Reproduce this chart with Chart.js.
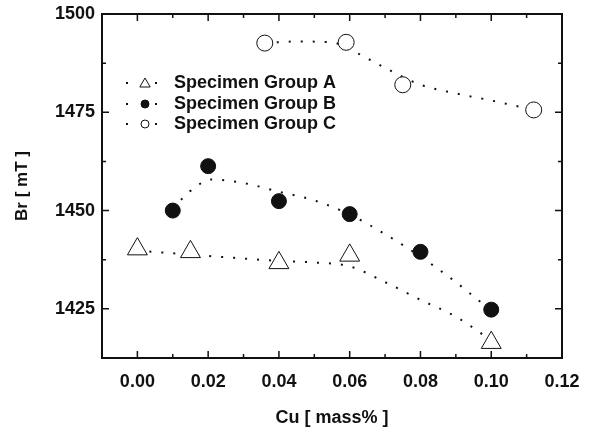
<!DOCTYPE html>
<html>
<head>
<meta charset="utf-8">
<script src="https://cdn.jsdelivr.net/npm/chart.js@4.4.1/dist/chart.umd.min.js"></script>
<style>
  html, body { margin: 0; padding: 0; background: #fff; }
  #wrap { width: 590px; height: 432px; }
</style>
</head>
<body>
<div id="wrap"><canvas id="brChart" width="590" height="432"></canvas></div>
<script>
// measured points (Cu mass%, Br mT)
const groupA_x = [0.000, 0.015, 0.040, 0.060, 0.100];
const groupA_y = [1440.2, 1439.5, 1436.7, 1438.6, 1416.4];
const groupB_x = [0.010, 0.020, 0.040, 0.060, 0.080, 0.100];
const groupB_y = [1450.0, 1461.3, 1452.4, 1449.1, 1439.5, 1424.8];
const groupC_x = [0.036, 0.059, 0.075, 0.112];
const groupC_y = [1492.6, 1492.8, 1482.0, 1475.6];

// dotted trend curves
const curveA_x = [0.000, 0.015, 0.030, 0.040, 0.050, 0.060, 0.070, 0.080, 0.090, 0.100];
const curveA_y = [1439.8, 1438.8, 1437.8, 1437.2, 1436.8, 1435.8, 1431.8, 1427.3, 1423.0, 1417.0];
const curveB_x = [0.010, 0.015, 0.021, 0.030, 0.040, 0.050, 0.060, 0.070, 0.080, 0.090, 0.100];
const curveB_y = [1450.5, 1455.0, 1457.9, 1457.0, 1454.8, 1452.6, 1449.0, 1444.0, 1438.3, 1431.8, 1424.5];
const curveC_x = [0.036, 0.045, 0.055, 0.060, 0.070, 0.080, 0.090, 0.100, 0.112];
const curveC_y = [1492.6, 1493.0, 1492.8, 1491.0, 1486.3, 1482.0, 1479.8, 1478.0, 1475.6];

const seriesNames = ['Specimen Group A', 'Specimen Group B', 'Specimen Group C'];
const xTickValues = [0.00, 0.02, 0.04, 0.06, 0.08, 0.10, 0.12];
const yTickValues = [1425, 1450, 1475, 1500];
const xMinorStep = 0.01;
const yMinorStep = 12.5;

function pts(xs, ys) {
    return xs.map(function (x, i) { return { x: x, y: ys[i] }; });
}

const FONT = 'Arial, "Liberation Sans", sans-serif';
const INK = '#111';

function curve(xs, ys) {
    return {
        data: pts(xs, ys),
        showLine: true,
        borderColor: INK,
        borderWidth: 2,
        borderDash: [2, 10],
        pointRadius: 0,
        tension: 0.4,
        cubicInterpolationMode: 'monotone',
        fill: false
    };
}

// no label overflow padding, the layout padding decides the plot box
function noOverflow(scale) {
    scale.paddingTop = 0;
    scale.paddingBottom = 0;
    scale.paddingLeft = 0;
    scale.paddingRight = 0;
}

// frame, inward ticks and the legend box
const framePlugin = {
    id: 'frame',
    afterDraw: function (chart) {
        const ctx = chart.ctx;
        const a = chart.chartArea;
        const xs = chart.scales.x, ys = chart.scales.y;
        ctx.save();
        ctx.strokeStyle = INK;
        ctx.lineWidth = 2;
        ctx.strokeRect(a.left, a.top, a.right - a.left, a.bottom - a.top);
        ctx.lineWidth = 1.5;
        ctx.beginPath();
        for (let v = Math.round(xs.min / xMinorStep); v * xMinorStep <= xs.max + 1e-9; v++) {
            const px = xs.getPixelForValue(v * xMinorStep);
            const len = (v % 2 === 0) ? 7 : 4;
            ctx.moveTo(px, a.bottom); ctx.lineTo(px, a.bottom - len);
            ctx.moveTo(px, a.top); ctx.lineTo(px, a.top + len);
        }
        for (let v = Math.ceil(ys.min / yMinorStep); v * yMinorStep <= ys.max + 1e-9; v++) {
            const py = ys.getPixelForValue(v * yMinorStep);
            const len = (v % 2 === 0) ? 7 : 4;
            ctx.moveTo(a.left, py); ctx.lineTo(a.left + len, py);
            ctx.moveTo(a.right, py); ctx.lineTo(a.right - len, py);
        }
        ctx.stroke();

        // legend
        const rowsY = [83, 104, 124];
        const styles = ['triangle', 'circle', 'circle'];
        const fills = ['#fff', INK, '#fff'];
        const radii = [6, 4, 4];
        ctx.font = 'bold 18px ' + FONT;
        ctx.textBaseline = 'middle';
        for (let i = 0; i < seriesNames.length; i++) {
            const y = rowsY[i];
            ctx.fillStyle = INK;
            ctx.fillRect(126, y - 1, 2, 2);
            ctx.fillRect(155, y - 1, 2, 2);
            ctx.lineWidth = 1;
            ctx.strokeStyle = INK;
            ctx.fillStyle = fills[i];
            Chart.helpers.drawPoint(ctx, { pointStyle: styles[i], radius: radii[i], borderWidth: 1 }, 145, y + (i === 0 ? 1 : 0));
            ctx.fillStyle = INK;
            ctx.fillText(seriesNames[i], 174, y);
        }
        ctx.restore();
    }
};

const ctx = document.getElementById('brChart').getContext('2d');
new Chart(ctx, {
    type: 'scatter',
    data: {
        datasets: [
            {
                label: seriesNames[0],
                data: pts(groupA_x, groupA_y),
                pointStyle: 'triangle',
                pointRadius: 11.5,
                pointBackgroundColor: '#fff',
                pointBorderColor: INK,
                pointBorderWidth: 1
            },
            {
                label: seriesNames[1],
                data: pts(groupB_x, groupB_y),
                pointStyle: 'circle',
                pointRadius: 7.5,
                pointBackgroundColor: INK,
                pointBorderColor: INK,
                pointBorderWidth: 1
            },
            {
                label: seriesNames[2],
                data: pts(groupC_x, groupC_y),
                pointStyle: 'circle',
                pointRadius: 8,
                pointBackgroundColor: '#fff',
                pointBorderColor: INK,
                pointBorderWidth: 1
            },
            curve(curveA_x, curveA_y),
            curve(curveB_x, curveB_y),
            curve(curveC_x, curveC_y)
        ]
    },
    options: {
        responsive: false,
        animation: false,
        layout: { padding: { left: 0, right: 28, top: 14, bottom: 0 } },
        plugins: {
            legend: { display: false },
            tooltip: { enabled: false }
        },
        scales: {
            x: {
                type: 'linear',
                min: -0.01,
                max: 0.12,
                afterBuildTicks: function (scale) {
                    scale.ticks = xTickValues.map(function (v) { return { value: v }; });
                },
                afterFit: function (scale) { scale.height = 74; noOverflow(scale); },
                grid: { display: false, drawTicks: false },
                border: { display: false },
                ticks: {
                    padding: 13,
                    color: INK,
                    font: { family: FONT, size: 18, weight: 'bold' },
                    callback: function (v) { return v.toFixed(2); }
                },
                title: {
                    display: true,
                    text: 'Cu [ mass% ]',
                    color: INK,
                    font: { family: FONT, size: 18, weight: 'bold' },
                    padding: { top: 0, bottom: 3 }
                }
            },
            y: {
                type: 'linear',
                min: 1412.5,
                max: 1500,
                afterBuildTicks: function (scale) {
                    scale.ticks = yTickValues.map(function (v) { return { value: v }; });
                },
                afterFit: function (scale) { scale.width = 102; noOverflow(scale); },
                grid: { display: false, drawTicks: false },
                border: { display: false },
                ticks: {
                    padding: 7,
                    color: INK,
                    font: { family: FONT, size: 18, weight: 'bold' },
                    callback: function (v) { return String(v); }
                },
                title: {
                    display: true,
                    text: 'Br [ mT ]',
                    color: INK,
                    font: { family: FONT, size: 17, weight: 'bold' },
                    padding: { top: 12, bottom: 0 }
                }
            }
        }
    },
    plugins: [framePlugin]
});
</script>
</body>
</html>
